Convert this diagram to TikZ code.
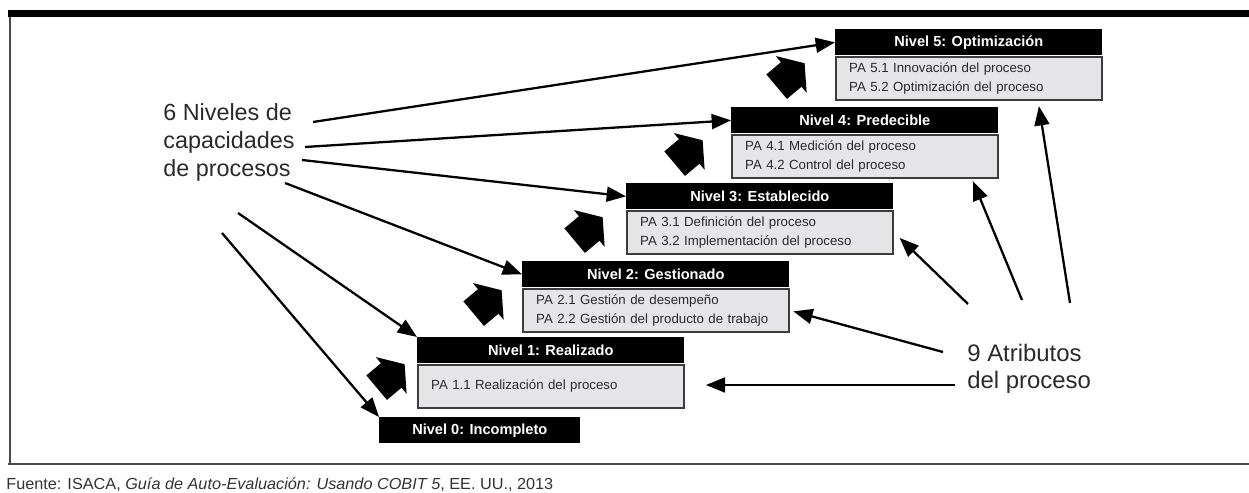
\documentclass[tikz,border=0pt]{standalone}
\usepackage{fontspec}
\usepackage{graphicx}
\setmainfont{Liberation Sans}
\usetikzlibrary{arrows.meta,calc}

\definecolor{bodygray}{HTML}{E5E5E8}
\definecolor{edgegray}{HTML}{3C3C3C}
\definecolor{textgray}{HTML}{2A2A2A}
\definecolor{framegray}{HTML}{4A4A4A}
\definecolor{footgray}{HTML}{333333}

\tikzset{
  hdr/.style={fill=black, text=white, font=\bfseries\fontsize{8.3}{9}\selectfont,
    minimum width=5.34cm, minimum height=0.52cm, inner sep=0pt, anchor=north west},
  bodybox/.style={fill=bodygray, draw=edgegray, line width=1.1pt,
    minimum height=0.87cm, text width=136.4pt, inner xsep=7.5pt, inner ysep=0pt,
    anchor=north west, align=left, text=textgray,
    font=\fontsize{7.55}{10.8}\selectfont},
  biglabel/.style={anchor=base west, inner sep=0pt, text=textgray},
  conn/.style={line width=1.3pt, -{Triangle[length=11pt,width=8.5pt]}},
  pics/blockarrow/.style={code={
    \fill[black] (-13.5,-16) -- (5.5,-16) -- (5.5,-24) -- (23,0) -- (5.5,24) -- (5.5,16) -- (-13.5,16) -- cycle;}},
}

\begin{document}
\begin{tikzpicture}[x=0.02cm, y=-0.02cm]
\useasboundingbox (0,0) rectangle (1249,493);

% frame: heavy top rule, left rule and bottom rule
\fill[black] (8,10) rectangle (1249,17);
\draw[framegray, line width=1.7pt] (10,17) -- (10,464);
\draw[framegray, line width=1.7pt] (8,464) -- (1249,464);

% level headers
\node[hdr] (h5) at (835,29) {Nivel 5: Optimización};
\node[hdr] (h4) at (731,107) {Nivel 4: Predecible};
\node[hdr] (h3) at (626,183) {Nivel 3: Establecido};
\node[hdr] (h2) at (522,261) {Nivel 2: Gestionado};
\node[hdr] (h1) at (417,337) {Nivel 1: Realizado};
\node[hdr, minimum width=4.02cm] (h0) at (379,417) {Nivel 0: Incompleto};

% process attributes of each level
\node[bodybox] (b5) at (h5.south west) {PA 5.1 Innovación del proceso\\PA 5.2 Optimización del proceso};
\node[bodybox] (b4) at (h4.south west) {PA 4.1 Medición del proceso\\PA 4.2 Control del proceso};
\node[bodybox] (b3) at (h3.south west) {PA 3.1 Definición del proceso\\PA 3.2 Implementación del proceso};
\node[bodybox] (b2) at (h2.south west) {PA 2.1 Gestión de desempeño\\PA 2.2 Gestión del producto de trabajo};
\node[bodybox] (b1) at (h1.south west) {PA 1.1 Realización del proceso};

% step arrows between levels
\pic[rotate=40] at (387,379) {blockarrow};
\pic[rotate=40] at (484,305) {blockarrow};
\pic[rotate=40] at (585,232) {blockarrow};
\pic[rotate=40] at (685,155) {blockarrow};
\pic[rotate=40] at (787,78) {blockarrow};

% side labels
\node[biglabel, font=\fontsize{13.3}{15.8}\selectfont] (niv) at (163,120.7)
  {\begin{tabular}[t]{@{}l@{}}6 Niveles de\\capacidades\\de procesos\end{tabular}};
\node[biglabel, font=\fontsize{13.6}{15.3}\selectfont] (atr) at (967,362)
  {\begin{tabular}[t]{@{}l@{}}9 Atributos\\del proceso\end{tabular}};

% connector origins
\coordinate (L5) at (313,122);
\coordinate (L4) at (305,147);
\coordinate (L3) at (302,160);
\coordinate (L2) at (285,183);
\coordinate (L1) at (238,213);
\coordinate (L0) at (222,233);
\coordinate (R1) at (955,385);
\coordinate (R2) at (943,352);
\coordinate (R3) at (968,304);
\coordinate (R4) at (1022,300);
\coordinate (R5) at (1070,303);

% capability levels
\draw[conn] (L5) -- (h5.west);
\draw[conn] (L4) -- (h4.west);
\draw[conn] (L3) -- (h3.west);
\draw[conn] (L2) -- (h2.west);
\draw[conn] (L1) -- (h1.north west);
\draw[conn] (L0) -- (h0.north west);

% process attributes
\draw[conn, shorten >=11.9pt] (R1) -- (b1.east |- R1);
\draw[conn, shorten >=2pt] (R2) -- (b2.east);
\draw[conn, shorten >=4.5pt] (R3) -- (b3.east);
\draw[conn] (R4) -- ($(b4.south east)+(-26,2)$);
\draw[conn] (R5) -- ($(b5.south east)+(-64,5)$);

% source line
\node[anchor=base west, inner sep=0pt, text=footgray, font=\fontsize{9.1}{11}\selectfont] (src) at (6,489)
  {\resizebox{10.94cm}{\height}{Fuente: ISACA, \textit{Guía de Auto-Evaluación: Usando COBIT 5}, EE. UU., 2013}};
\end{tikzpicture}
\end{document}
